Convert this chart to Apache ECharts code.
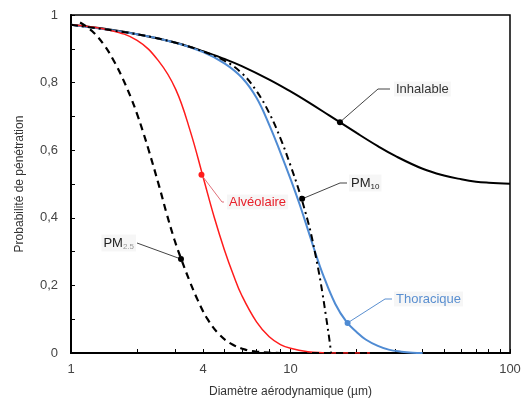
<!DOCTYPE html>
<html><head><meta charset="utf-8">
<script src="https://cdn.jsdelivr.net/npm/echarts@6/dist/echarts.min.js"></script>
<style>html,body{margin:0;padding:0;background:#fff}#c{width:525px;height:399px}</style>
</head><body><div id="c"></div>
<script>
// ---- Data ----
const xTickLabels = [1, 4, 10, 100];
const xTickMarks = [1,2,3,4,5,6,7,8,9,10,20,30,40,50,60,70,80,90,100];
const yTickLabels = ['0', '0,2', '0,4', '0,6', '0,8', '1'];

const inhalableD = [1,1.5,2,3,4,5,6,8,10,12,15,20,25,30,40,50,60,70,80,100];
const inhalableP = [0.971,0.957,0.943,0.918,0.893,0.870,0.849,0.809,0.774,0.743,0.703,0.651,0.612,0.583,0.545,0.525,0.514,0.507,0.504,0.501];

const thoraciqueD = [1,2,3,4,5,6,7,8,9,10,11,12,13,14,16,18,20,22,25,28,32,36,40];
const thoraciqueP = [0.971,0.943,0.918,0.890,0.857,0.815,0.755,0.675,0.593,0.515,0.440,0.365,0.295,0.235,0.145,0.092,0.062,0.040,0.021,0.010,0.004,0.001,0];

const alveolaireD = [1,1.5,2,2.5,3,3.5,4,4.5,5,5.5,6,7,8,9,10,12,14,16,20,23];
const alveolaireP = [0.971,0.955,0.925,0.865,0.780,0.655,0.520,0.400,0.305,0.230,0.170,0.092,0.048,0.025,0.014,0.004,0.001,0,0,0];

const pm10D = [1,2,3,4,5,6,7,8,9,10,11,12,12.5,13,13.5,14,14.5,15,15.3];
const pm10P = [0.971,0.943,0.918,0.892,0.865,0.828,0.775,0.710,0.635,0.555,0.475,0.390,0.343,0.290,0.235,0.175,0.110,0.045,0];

const pm25D = [1.1,1.25,1.42,1.58,1.72,1.89,2.01,2.12,2.26,2.53,2.72,2.96,3.19,3.47,3.77,4.19,4.75,5.44,6.3,7,8,9,23];
const pm25P = [0.978,0.952,0.910,0.860,0.812,0.750,0.703,0.658,0.600,0.490,0.415,0.335,0.275,0.213,0.158,0.100,0.054,0.025,0.009,0.004,0.001,0,0];

// annotation anchor points (on the curves)
const annotNames = ['Inhalable', 'PM10', 'PM2.5', 'Alvéolaire', 'Thoracique'];
const annotD = [16.8, 11.3, 3.17, 3.93, 18.2];
const annotP = [0.683, 0.456, 0.278, 0.527, 0.089];

// ---- Chart ----
const font = '"Liberation Sans", Arial, sans-serif';
const zip = (a, b) => a.map((v, i) => [v, b[i]]);
const chart = echarts.init(document.getElementById('c'), null, {renderer: 'canvas'});

const lineBase = {type: 'line', smooth: 0.4, showSymbol: false, symbol: 'none'};

chart.setOption({
  animation: false,
  backgroundColor: '#fff',
  textStyle: {fontFamily: font},
  grid: {left: 71, right: 15, top: 15, bottom: 46, containLabel: false, outerBoundsMode: 'none',
         show: true, borderColor: '#000', borderWidth: 1.5, backgroundColor: 'transparent'},
  xAxis: {
    type: 'log', logBase: 10, min: 1, max: 100,
    name: 'Diamètre aérodynamique (µm)', nameLocation: 'middle', nameGap: 33,
    nameTextStyle: {fontSize: 12, color: '#333', fontFamily: font},
    axisLine: {show: true, onZero: false, lineStyle: {color: '#000', width: 2}},
    axisTick: {show: true, inside: true, length: 4, customValues: xTickMarks, lineStyle: {color: '#000', width: 1}},
    axisLabel: {customValues: xTickLabels, fontSize: 13, color: '#444', margin: 10, fontFamily: font},
    splitLine: {show: false}, minorTick: {show: false}
  },
  yAxis: {
    type: 'value', min: 0, max: 1, interval: 0.2,
    name: 'Probabilité de pénétration', nameLocation: 'middle', nameGap: 45, nameRotate: 90,
    nameTextStyle: {fontSize: 12, color: '#333', fontFamily: font},
    axisLine: {show: true, lineStyle: {color: '#000', width: 2}},
    axisTick: {show: true, inside: true, length: 4, lineStyle: {color: '#000', width: 1}},
    minorTick: {show: true, splitNumber: 2, length: 4, lineStyle: {color: '#000', width: 1}},
    axisLabel: {fontSize: 13, color: '#444', margin: 13, fontFamily: font,
      formatter: v => yTickLabels[Math.round(v / 0.2)]},
    splitLine: {show: false}
  },
  series: [
    Object.assign({}, lineBase, {name: 'Inhalable', data: zip(inhalableD, inhalableP), lineStyle: {color: '#000', width: 2}, z: 3}),
    Object.assign({}, lineBase, {name: 'Thoracique', data: zip(thoraciqueD, thoraciqueP), lineStyle: {color: '#4f8bd3', width: 2}, z: 4}),
    Object.assign({}, lineBase, {name: 'Alvéolaire', data: zip(alveolaireD, alveolaireP), lineStyle: {color: '#ff1c1c', width: 1.5}, z: 4}),
    Object.assign({}, lineBase, {name: 'PM10', data: zip(pm10D, pm10P), lineStyle: {color: '#000', width: 2, type: [7, 4, 2, 4]}, z: 5}),
    Object.assign({}, lineBase, {name: 'PM2.5', data: zip(pm25D, pm25P), lineStyle: {color: '#000', width: 2.2, type: [7, 5]}, z: 5})
  ]
});

// ---- Annotations (dots from data, leader lines and labels) ----
const layout = {
  'Inhalable':  {elbow: [378, 89],  end: [390, 89],  text: {x: 394, y: 89, align: 'left'},  color: '#333', lineColor: '#444', dot: '#000'},
  'PM10':       {elbow: [340, 183], end: [347, 183], text: {x: 349, y: 183, align: 'left'}, color: '#222', lineColor: '#444', dot: '#000'},
  'PM2.5':      {elbow: [137, 243], end: [137, 243], text: {x: 136, y: 243, align: 'right'}, color: '#222', lineColor: '#444', dot: '#000'},
  'Alvéolaire': {elbow: [222, 202], end: [224, 202], text: {x: 227, y: 202, align: 'left'}, color: '#e8202a', lineColor: '#e0707a', dot: '#ff1c1c'},
  'Thoracique': {elbow: [385, 299], end: [392, 299], text: {x: 394, y: 299, align: 'left'}, color: '#5a8fd0', lineColor: '#5a8fd0', dot: '#4f8bd3'}
};
const graphics = [];
annotNames.forEach((name, i) => {
  const p = chart.convertToPixel({gridIndex: 0}, [annotD[i], annotP[i]]);
  const L = layout[name];
  graphics.push({type: 'polyline', shape: {points: [p, L.elbow, L.end]}, style: {stroke: L.lineColor, lineWidth: 1, fill: null}, z: 10});
  graphics.push({type: 'circle', shape: {cx: p[0], cy: p[1], r: 3}, style: {fill: L.dot}, z: 11});
  let txt, rich = {};
  if (name === 'PM10' || name === 'PM2.5') {
    const sub = name.slice(2);
    txt = '{a|PM}{b|' + sub + '}';
    rich = {a: {fontSize: 13, fill: L.color, fontFamily: font},
            b: {fontSize: 8, fill: name === 'PM2.5' ? '#999' : L.color, fontFamily: font, padding: [7, 0, 0, 0]}};
  } else {
    txt = name;
  }
  graphics.push({type: 'text', z: 12, x: L.text.x, y: L.text.y,
    style: {text: txt, rich: rich, fill: L.color, fontSize: 13, fontFamily: font,
      align: L.text.align, verticalAlign: 'middle',
      backgroundColor: 'rgba(245,245,245,0.9)', padding: [1, 2]}});
});
chart.setOption({graphic: graphics});
</script>
</body></html>
